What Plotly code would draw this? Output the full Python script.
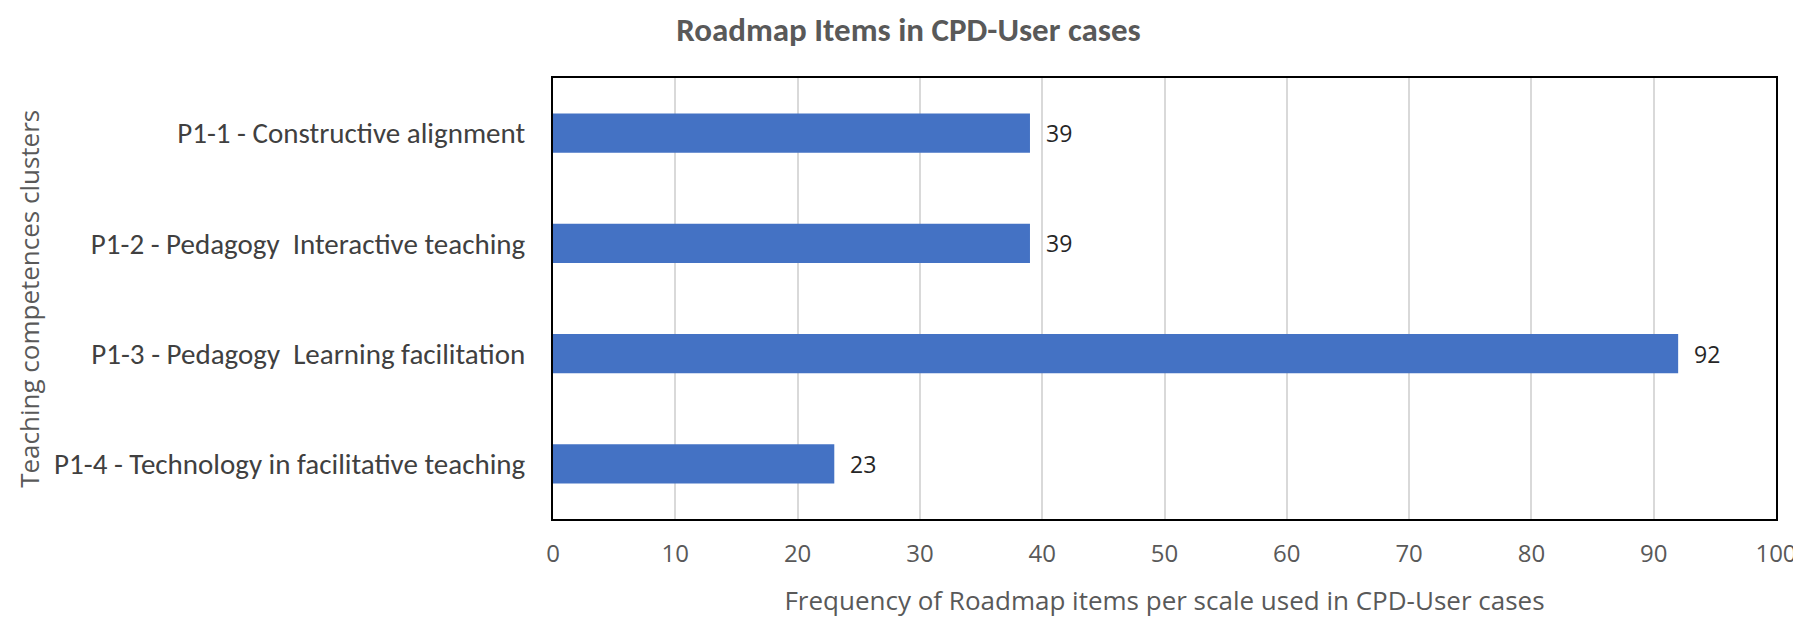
import plotly.graph_objects as go

categories = [
    "P1-1 - Constructive alignment",
    "P1-2 - Pedagogy  Interactive teaching",
    "P1-3 - Pedagogy  Learning facilitation",
    "P1-4 - Technology in facilitative teaching",
]
values = [39, 39, 92, 23]
x_ticks = list(range(0, 101, 10))

narrow = "Liberation Sans Narrow, Carlito, Lato, Noto Sans, sans-serif"
wide = "Open Sans, Noto Sans, sans-serif"

fig = go.Figure()
fig.add_trace(go.Bar(
    y=categories,
    x=values,
    orientation="h",
    marker=dict(color="#4472C4", line=dict(width=0)),
    width=0.355,
    hoverinfo="skip",
))

for c, v in zip(categories, values):
    fig.add_annotation(
        x=v, y=c, text=str(v), showarrow=False,
        xanchor="left", xshift=14,
        font=dict(family=wide, size=23, color="#262626"),
    )

fig.add_annotation(
    xref="paper", yref="paper", x=-0.429, y=0.5,
    xanchor="center", yanchor="middle",
    text="Teaching competences clusters", textangle=-90, showarrow=False,
    font=dict(family=wide, size=26, color="#595959"),
)

fig.update_layout(
    width=1801, height=619,
    margin=dict(l=545, r=24, t=70, b=108),
    paper_bgcolor="white",
    plot_bgcolor="white",
    showlegend=False,
    title=dict(
        text="<b>Roadmap Items in CPD-User cases</b>",
        x=0.5, xanchor="center", y=0.965, yanchor="middle",
        font=dict(family=narrow, size=33, color="#595959"),
    ),
    xaxis=dict(
        range=[0, 100],
        tickvals=x_ticks,
        ticktext=[str(t) for t in x_ticks],
        showgrid=True, gridcolor="#D9D9D9", gridwidth=1.5,
        zeroline=False,
        showline=True, linecolor="black", linewidth=2, mirror=True,
        ticks="", ticklen=0,
        ticklabelstandoff=12,
        tickfont=dict(family=wide, size=24, color="#595959"),
        title=dict(
            text="Frequency of Roadmap items per scale used in CPD-User cases",
            font=dict(family=wide, size=26, color="#595959"),
            standoff=24,
        ),
    ),
    yaxis=dict(
        categoryorder="array",
        categoryarray=categories[::-1],
        showgrid=False, zeroline=False,
        showline=True, linecolor="black", linewidth=2, mirror=True,
        ticks="", ticklen=0,
        ticklabelstandoff=20,
        tickfont=dict(family=narrow, size=29, color="#404040"),
    ),
)

fig.write_html("out.html")
